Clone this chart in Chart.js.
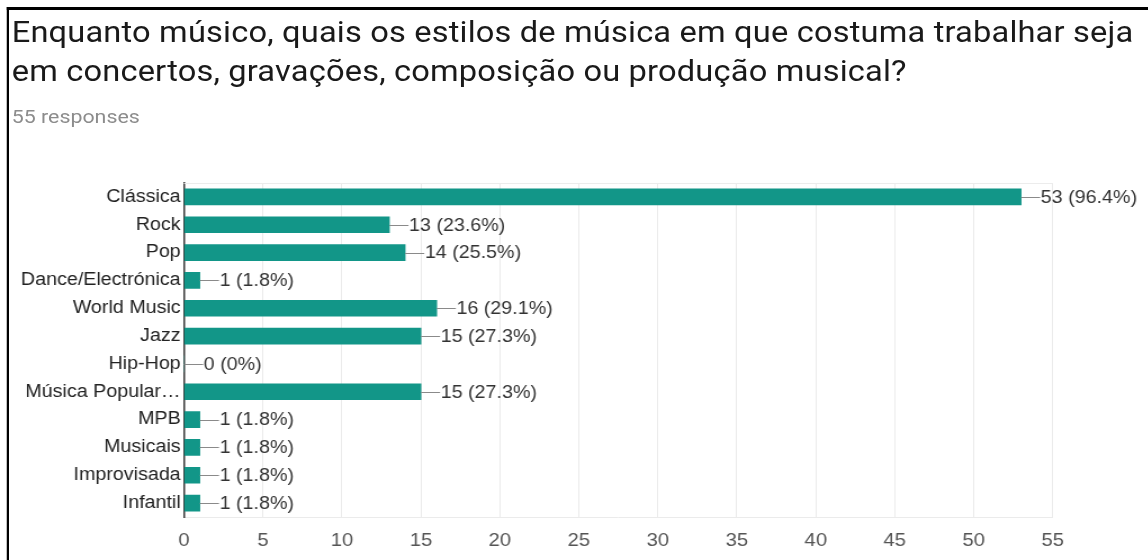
<!DOCTYPE html>
<html>
<head>
<meta charset="utf-8">
<script src="https://cdn.jsdelivr.net/npm/chart.js@4"></script>
<style>
  html,body{margin:0;padding:0;background:#fff;}
  body{width:1148px;height:560px;position:relative;overflow:hidden;}
  #stage{position:absolute;left:0;top:0;width:1021px;height:560px;transform:scaleX(1.125);transform-origin:0 0;}
  #frame{position:absolute;left:6.2px;top:7px;width:1100px;height:600px;border-top:3px solid #000;border-left:2.7px solid #000;}
  #title{position:absolute;left:10.4px;top:12.6px;font-family:Roboto,"Liberation Sans",sans-serif;font-size:29px;line-height:39px;color:#1a1a1a;white-space:nowrap;letter-spacing:0.15px;}
  #sub{position:absolute;left:10.4px;top:105px;font-family:Roboto,"Liberation Sans",sans-serif;font-size:19px;color:#8c8c8c;white-space:nowrap;}
  #wrap{position:absolute;left:0;top:0;width:1021px;height:560px;}
</style>
</head>
<body>
<div id="stage">
<div id="frame"></div>
<div id="title">Enquanto músico, quais os estilos de música em que costuma trabalhar seja<br>em concertos, gravações, composição ou produção musical?</div>
<div id="sub">55 responses</div>
<div id="wrap"><canvas id="c" width="1021" height="560"></canvas></div>
</div>
<script>
const categories = ["Clássica","Rock","Pop","Dance/Electrónica","World Music","Jazz","Hip-Hop","Música Popular…","MPB","Musicais","Improvisada","Infantil"];
const counts = [53,13,14,1,16,15,0,15,1,1,1,1];
const percents = ["96.4%","23.6%","25.5%","1.8%","29.1%","27.3%","0%","27.3%","1.8%","1.8%","1.8%","1.8%"];
const xTicks = [0,5,10,15,20,25,30,35,40,45,50,55];

const FONT = '"Liberation Sans", Arial, sans-serif';

const labelPlugin = {
  id: 'valueLabels',
  afterDatasetsDraw(chart) {
    const ctx = chart.ctx;
    const meta = chart.getDatasetMeta(0);
    const ca = chart.chartArea;
    ctx.save();
    ctx.strokeStyle = '#ececec';
    ctx.lineWidth = 1;
    ctx.beginPath();
    ctx.moveTo(ca.left, ca.top + 0.5);
    ctx.lineTo(ca.right, ca.top + 0.5);
    ctx.stroke();
    ctx.font = '17.5px ' + FONT;
    ctx.textBaseline = 'middle';
    ctx.textAlign = 'left';
    meta.data.forEach((bar, i) => {
      const x = bar.x, y = Math.round(bar.y) + 0.5;
      ctx.strokeStyle = '#8a8a8a';
      ctx.beginPath();
      ctx.moveTo(x, y);
      ctx.lineTo(x + 17, y);
      ctx.stroke();
      ctx.fillStyle = '#333';
      ctx.fillText(counts[i] + ' (' + percents[i] + ')', x + 17.5, bar.y + 1);
    });
    ctx.restore();
  }
};

new Chart(document.getElementById('c'), {
  type: 'bar',
  data: {
    labels: categories,
    datasets: [{
      data: counts,
      backgroundColor: '#129688',
      borderWidth: 0,
      barThickness: 16
    }]
  },
  options: {
    indexAxis: 'y',
    responsive: false,
    animation: false,
    layout: { padding: { top: 183, right: 85.3, left: 0, bottom: 0 } },
    plugins: { legend: { display: false }, tooltip: { enabled: false } },
    scales: {
      x: {
        min: 0, max: 55,
        afterBuildTicks(scale) { scale.ticks = xTicks.map(v => ({ value: v })); },
        afterFit(scale) { scale.height = 43; },
        grid: { color: '#ebebeb', drawTicks: false },
        border: { display: true, color: '#ebebeb' },
        ticks: { padding: 13, color: '#555', font: { family: FONT, size: 18 } }
      },
      y: {
        afterFit(scale) { scale.width = 163.6; },
        grid: { display: false, drawTicks: false },
        border: { display: true, color: '#333', width: 1.5 },
        ticks: { padding: 3, color: '#222', autoSkip: false, font: { family: FONT, size: 17.5 } }
      }
    }
  },
  plugins: [labelPlugin]
});
</script>
</body>
</html>
